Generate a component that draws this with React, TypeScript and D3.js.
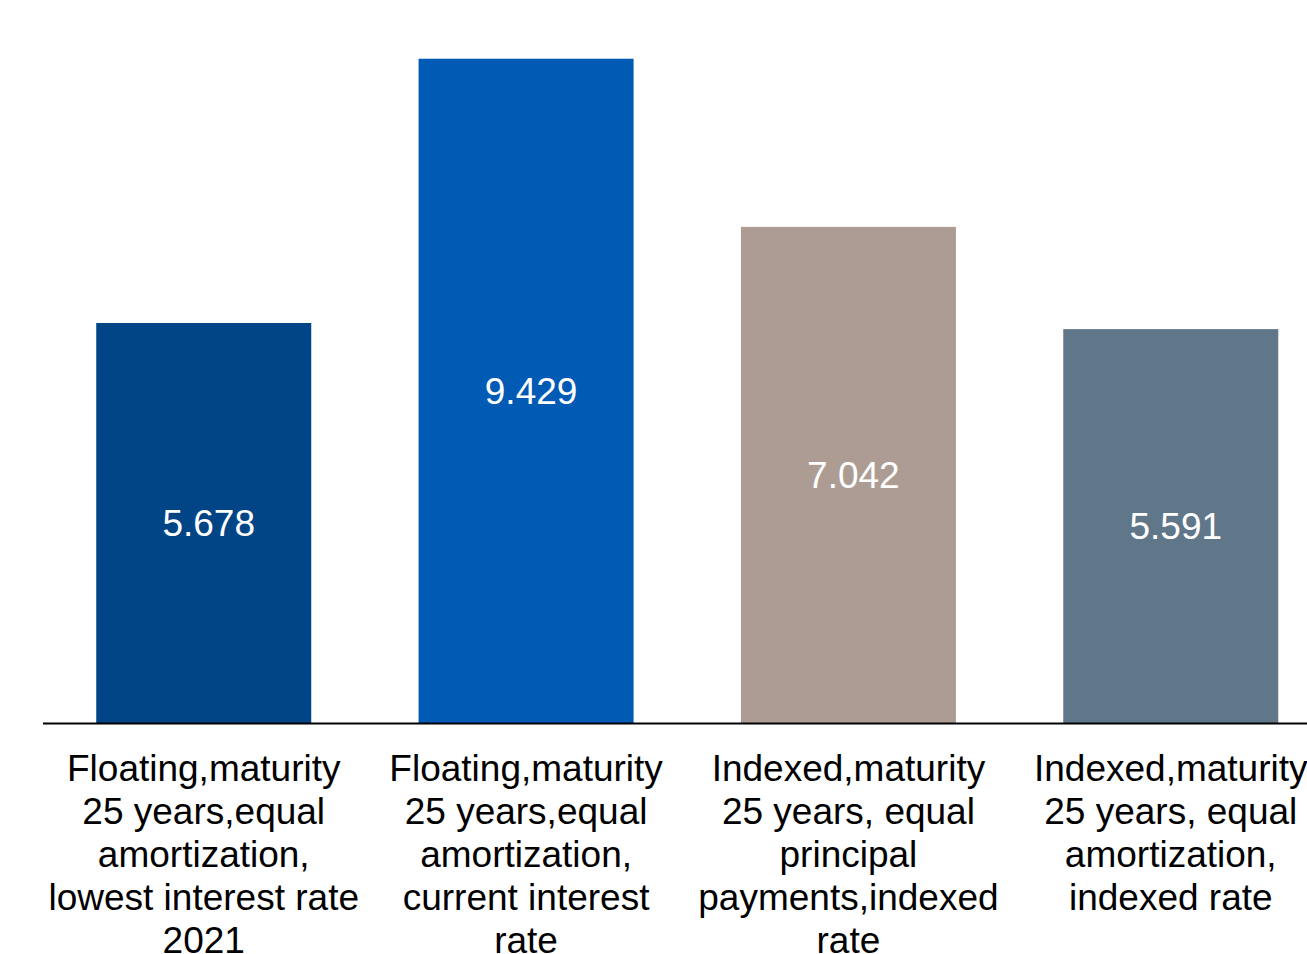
import React, { useEffect, useRef } from 'react';
import * as d3 from 'd3';

const categories = ['c1', 'c2', 'c3', 'c4'];
const values = [5.678, 9.429, 7.042, 5.591];
const valueLabels = ['5.678', '9.429', '7.042', '5.591'];
const categoryLines = [
  ['Floating,maturity', '25 years,equal', 'amortization,', 'lowest interest rate', '2021'],
  ['Floating,maturity', '25 years,equal', 'amortization,', 'current interest', 'rate'],
  ['Indexed,maturity', '25 years, equal', 'principal', 'payments,indexed', 'rate'],
  ['Indexed,maturity', '25 years, equal', 'amortization,', 'indexed rate'],
];
const barColors = ['#014587', '#015AB4', '#AD9C93', '#607689'];

const App: React.FC = () => {
  const svgRef = useRef<SVGSVGElement>(null);

  useEffect(() => {
    if (!svgRef.current) return;
    const svg = d3.select(svgRef.current);
    svg.selectAll('*').remove();

    const width = 1307;
    const height = 954;
    const baseline = 723;
    const font = '"Liberation Sans", Arial, sans-serif';

    const x = d3
      .scaleBand()
      .domain(categories)
      .range([42.5, 1332])
      .paddingInner(0.333)
      .paddingOuter(0.1667);

    const y = d3.scaleLinear().domain([0, 10]).range([baseline, baseline - 704.5]);

    svg
      .selectAll('rect.bar')
      .data(values)
      .enter()
      .append('rect')
      .attr('class', 'bar')
      .attr('x', (d, i) => x(categories[i]) || 0)
      .attr('y', (d) => y(d))
      .attr('width', x.bandwidth())
      .attr('height', (d) => y(0) - y(d))
      .attr('fill', (d, i) => barColors[i]);

    svg
      .selectAll('text.val')
      .data(values)
      .enter()
      .append('text')
      .attr('class', 'val')
      .attr('x', (d, i) => (x(categories[i]) || 0) + x.bandwidth() / 2 + 5)
      .attr('y', (d) => (y(d) + y(0)) / 2 + 13)
      .attr('text-anchor', 'middle')
      .attr('fill', '#fff')
      .style('font-family', font)
      .style('font-size', '37px')
      .text((d, i) => valueLabels[i]);

    svg
      .append('line')
      .attr('x1', 43)
      .attr('x2', width)
      .attr('y1', baseline + 0.5)
      .attr('y2', baseline + 0.5)
      .attr('stroke', '#000')
      .attr('stroke-width', 2);

    const labels = svg
      .selectAll('text.cat')
      .data(categoryLines)
      .enter()
      .append('text')
      .attr('class', 'cat')
      .attr('text-anchor', 'middle')
      .attr('fill', '#000')
      .style('font-family', font)
      .style('font-size', '37px');

    labels
      .selectAll('tspan')
      .data((d, i) => d.map((line) => ({ line, i })))
      .enter()
      .append('tspan')
      .attr('x', (d) => (x(categories[d.i]) || 0) + x.bandwidth() / 2)
      .attr('y', (d, j) => 781 + j * 43)
      .text((d) => d.line);

    svg.attr('height', height);
  }, []);

  return (
    <svg
      ref={svgRef}
      width={1307}
      height={954}
      style={{ position: 'absolute', left: 0, top: 0, background: '#fff' }}
    ></svg>
  );
};

export default App;
